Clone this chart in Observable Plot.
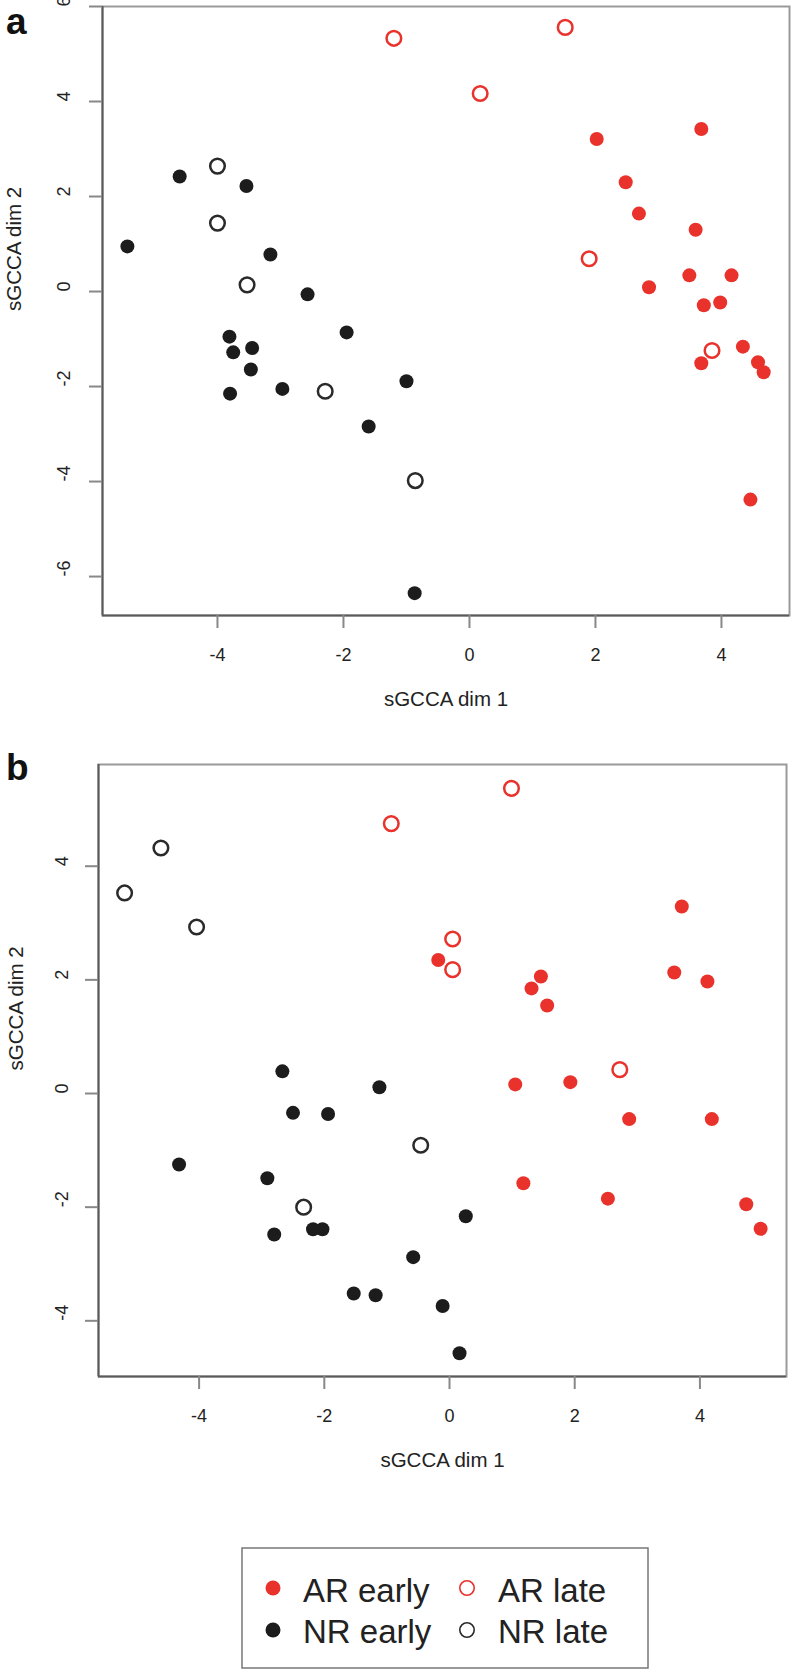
<!DOCTYPE html>
<html><head><meta charset="utf-8">
<script src="https://cdn.jsdelivr.net/npm/d3@7"></script>
<script src="https://cdn.jsdelivr.net/npm/@observablehq/plot@0.6"></script>
<style>
body{margin:0;background:#fff;font-family:"Liberation Sans",Arial,Helvetica,sans-serif;}
#root{position:relative;width:792px;height:1671px;overflow:hidden;}
.panel{position:absolute;left:0;}
.tag{position:absolute;font-weight:bold;font-size:37px;line-height:37px;color:#111;}
</style></head><body><div id="root"></div>
<script>
// ---- data ----
const groups = ["AR early", "AR late", "NR early", "NR late"];
const groupColors = ["#e8322b", "#e8322b", "#1c1c1c", "#2a2a2a"];
const groupFilled = [true, false, true, false];

// Panel a  [x, y]
const a_AR_early = [[2.02,3.21],[3.68,3.42],[2.48,2.30],[2.69,1.64],[3.59,1.30],[3.49,0.34],[4.16,0.34],[2.85,0.09],[3.72,-0.29],[3.98,-0.23],[4.34,-1.16],[3.68,-1.51],[4.58,-1.49],[4.67,-1.70],[4.46,-4.38]];
const a_AR_late = [[-1.20,5.33],[1.52,5.56],[0.17,4.17],[1.90,0.69],[3.85,-1.24]];
const a_NR_early = [[-4.60,2.42],[-3.54,2.22],[-5.43,0.95],[-3.16,0.78],[-2.57,-0.06],[-1.95,-0.86],[-3.81,-0.95],[-3.75,-1.28],[-3.45,-1.19],[-3.47,-1.64],[-3.80,-2.15],[-2.97,-2.05],[-1.60,-2.84],[-1.00,-1.89],[-0.87,-6.35]];
const a_NR_late = [[-4.00,2.64],[-4.00,1.44],[-3.53,0.14],[-2.29,-2.10],[-0.86,-3.98]];

// Panel b  [x, y]
const b_AR_early = [[3.71,3.29],[-0.18,2.35],[1.46,2.06],[1.31,1.85],[1.56,1.55],[3.59,2.13],[4.12,1.97],[1.05,0.16],[1.93,0.20],[2.87,-0.45],[4.19,-0.45],[1.18,-1.58],[2.53,-1.85],[4.74,-1.95],[4.97,-2.38]];
const b_AR_late = [[-0.93,4.75],[0.99,5.37],[0.05,2.72],[0.05,2.18],[2.72,0.42]];
const b_NR_early = [[-2.67,0.39],[-1.12,0.11],[-2.50,-0.34],[-1.94,-0.36],[0.26,-2.16],[-0.58,-2.88],[-0.11,-3.74],[0.16,-4.57],[-4.32,-1.25],[-2.91,-1.49],[-2.80,-2.48],[-2.18,-2.39],[-2.03,-2.39],[-1.53,-3.52],[-1.18,-3.55]];
const b_NR_late = [[-5.19,3.53],[-4.61,4.32],[-4.04,2.93],[-0.46,-0.91],[-2.33,-2.00]];

const a_xTicks = [-4,-2,0,2,4];
const a_yTicks = [-6,-4,-2,0,2,4,6];
const b_xTicks = [-4,-2,0,2,4];
const b_yTicks = [-4,-2,0,2,4];
const xTitle = "sGCCA dim 1";
const yTitle = "sGCCA dim 2";

function rows(lists) {
  const out = [];
  lists.forEach((pts, gi) => pts.forEach(([x, y]) => out.push({group: groups[gi], x, y})));
  return out;
}
const dataA = rows([a_AR_early, a_AR_late, a_NR_early, a_NR_late]);
const dataB = rows([b_AR_early, b_AR_late, b_NR_early, b_NR_late]);

function panel(data, o) {
  const filled = data.filter(d => groupFilled[groups.indexOf(d.group)]);
  const open = data.filter(d => !groupFilled[groups.indexOf(d.group)]);
  return Plot.plot({
    width: 792, height: o.height,
    marginLeft: o.ml, marginRight: o.mr, marginTop: o.mt, marginBottom: o.mb,
    style: {fontFamily: '"Liberation Sans", Arial, sans-serif', color: "#222", background: "white", overflow: "visible"},
    x: {domain: o.xd, axis: null},
    y: {domain: o.yd, axis: null},
    color: {domain: groups, range: groupColors},
    marks: [
      Plot.frame({stroke: "#9a9a9a", strokeWidth: 2}),
      Plot.ruleX([o.xd[0]], {stroke: "#5a5a5a", strokeWidth: 2}),
      Plot.ruleY([o.yd[0]], {stroke: "#5a5a5a", strokeWidth: 2}),
      Plot.axisX(o.xt, {tickSize: 13, tickPadding: 20, fontSize: 18, stroke: "#888", strokeWidth: 2, fill: "#222", tickFormat: d => String(d), label: null}),
      Plot.axisY(o.yt, {tickSize: 13, stroke: "#888", strokeWidth: 2, tickFormat: () => "", label: null}),
      Plot.text(o.yt, {y: d => d, frameAnchor: "left", dx: o.ytx, rotate: -90, text: d => String(d), fontSize: 18, fill: "#222"}),
      Plot.text([xTitle], {frameAnchor: "bottom", dy: 90, text: d => d, fontSize: 20.5, fill: "#222"}),
      Plot.text([yTitle], {frameAnchor: "left", dx: o.ytitle, rotate: -90, text: d => d, fontSize: 20.5, fill: "#222"}),
      Plot.dot(open, {x: "x", y: "y", r: 7.3, stroke: "group", strokeWidth: 2.5, fill: "white"}),
      Plot.dot(filled, {x: "x", y: "y", r: 7, fill: "group", stroke: "none"})
    ]
  });
}

const root = document.getElementById("root");

const pa = panel(dataA, {height: 730, ml: 102, mr: 3, mt: 6, mb: 115,
  xd: [-5.825, 5.08], yd: [-6.82, 6.0], xt: a_xTicks, yt: a_yTicks, ytx: -38.5, ytitle: -88});
pa.classList.add("panel"); pa.style.top = "0px";
root.appendChild(pa);

const pb = panel(dataB, {height: 760, ml: 98, mr: 6, mt: 34, mb: 114,
  xd: [-5.607, 5.383], yd: [-4.98, 5.79], xt: b_xTicks, yt: b_yTicks, ytx: -36.5, ytitle: -82});
pb.classList.add("panel"); pb.style.top = "730px";
root.appendChild(pb);

// panel tags
[["a", 2.5], ["b", 749]].forEach(([t, top]) => {
  const d = document.createElement("div");
  d.className = "tag"; d.textContent = t;
  d.style.left = "6px"; d.style.top = top + "px";
  root.appendChild(d);
});

// legend
const legendItems = [
  {g: 0, cx: 273, cy: 1588, tx: 303, ty: 1602},
  {g: 1, cx: 467, cy: 1588, tx: 498, ty: 1602},
  {g: 2, cx: 273, cy: 1630, tx: 303, ty: 1643},
  {g: 3, cx: 467, cy: 1630, tx: 498, ty: 1643}
];
const svg = d3.create("svg").attr("width", 792).attr("height", 1671)
  .style("position", "absolute").style("left", 0).style("top", 0).style("pointer-events", "none");
svg.append("rect").attr("x", 242).attr("y", 1548).attr("width", 406).attr("height", 120)
  .attr("fill", "none").attr("stroke", "#777").attr("stroke-width", 1.5);
legendItems.forEach(it => {
  const c = groupColors[it.g];
  if (groupFilled[it.g]) {
    svg.append("circle").attr("cx", it.cx).attr("cy", it.cy).attr("r", 7.5).attr("fill", c);
  } else {
    svg.append("circle").attr("cx", it.cx).attr("cy", it.cy).attr("r", 7.2).attr("fill", "none").attr("stroke", c).attr("stroke-width", 1.6);
  }
  svg.append("text").attr("x", it.tx).attr("y", it.ty).attr("font-size", 33)
    .attr("font-family", '"Liberation Sans", Arial, sans-serif').attr("fill", "#222").text(groups[it.g]);
});
root.appendChild(svg.node());
</script>
</body></html>
